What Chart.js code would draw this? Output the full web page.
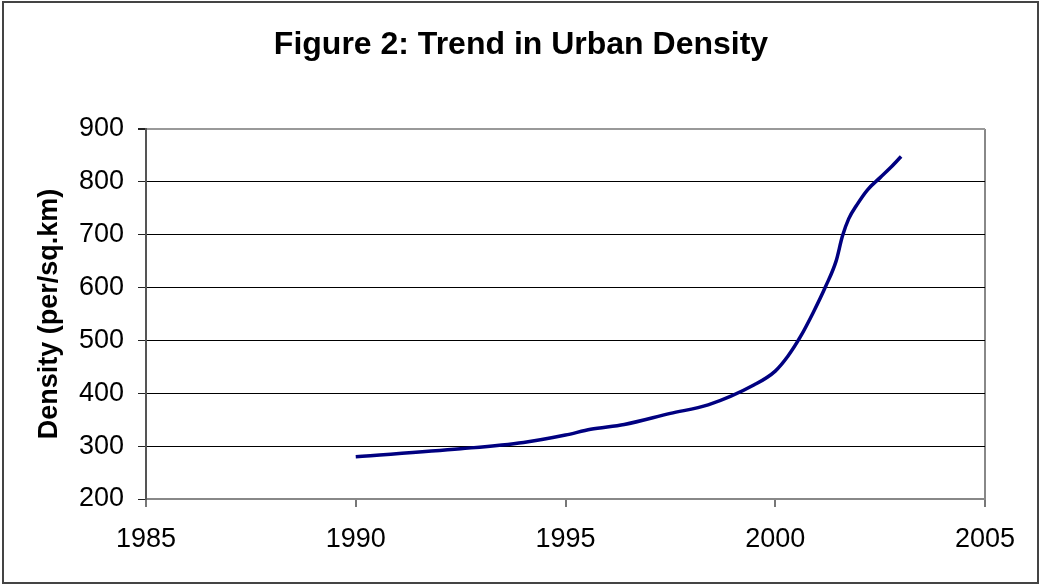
<!DOCTYPE html>
<html>
<head>
<meta charset="utf-8">
<script src="https://cdn.jsdelivr.net/npm/chart.js@4.4.0/dist/chart.umd.min.js"></script>
<style>
  body { margin: 0; background: #fff; }
</style>
</head>
<body>
<canvas id="myChart" width="1040" height="585"></canvas>
<script>
// valores
var anos = [1990, 1992.5, 1994, 1995, 1995.6, 1996.4, 1997.5, 1998.4, 1999.5, 2000, 2000.3, 2000.6, 2000.9, 2001.2, 2001.45, 2001.6, 2001.75, 2001.95, 2002.2, 2002.5, 2002.75, 2003];
var densidade = [280, 295, 307, 321, 332, 341, 362, 378, 416, 442, 470, 507, 552, 602, 650, 697, 730, 757, 785, 808, 827, 848];
var ticksX = [1985, 1990, 1995, 2000, 2005];
var ticksY = [200, 300, 400, 500, 600, 700, 800, 900];
var titulo = 'Figure 2: Trend in Urban Density';

var pontos = [];
for (let i = 0; i < anos.length; i++) {
    pontos.push({ x: anos[i], y: densidade[i] });
}

// moldura externa e titulo
var moldura = {
    id: 'moldura',
    afterDraw: function (chart) {
        let c = chart.ctx;
        c.save();
        c.strokeStyle = '#444';
        c.lineWidth = 2;
        c.strokeRect(3, 2, 1035, 581);
        c.fillStyle = '#000';
        c.font = 'bold 32px "Liberation Sans", Arial';
        c.textAlign = 'center';
        c.textBaseline = 'middle';
        c.fillText(titulo, 521, 45);
        c.restore();
    }
};

let ctx = document.getElementById('myChart').getContext('2d');
let myChart = new Chart(ctx, {
    type: 'scatter',
    data: {
        datasets: [{
            label: 'Density',
            data: pontos,
            showLine: true,
            borderColor: '#000080',
            backgroundColor: '#000080',
            borderWidth: 3.5,
            pointRadius: 0,
            cubicInterpolationMode: 'monotone'
        }]
    },
    options: {
        responsive: false,
        animation: false,
        layout: { padding: { left: 0, right: 55, top: 129, bottom: 0 } },
        plugins: {
            legend: { display: false },
            tooltip: { enabled: false },
            title: { display: false }
        },
        scales: {
            x: {
                type: 'linear',
                min: 1985,
                max: 2005,
                afterBuildTicks: function (s) { s.ticks = ticksX.map(v => ({ value: v })); },
                afterFit: function (s) { s.height = 86; },
                ticks: {
                    color: '#000',
                    padding: 16,
                    font: { family: 'Liberation Sans, Arial', size: 27 },
                    callback: v => String(v)
                },
                grid: {
                    color: c => (c.tick && c.tick.value === 2005) ? '#888' : 'rgba(0,0,0,0)',
                    lineWidth: 2,
                    tickColor: '#777',
                    tickLength: 8
                },
                border: { color: '#888', width: 2 }
            },
            y: {
                min: 200,
                max: 900,
                afterBuildTicks: function (s) { s.ticks = ticksY.map(v => ({ value: v })); },
                afterFit: function (s) { s.width = 146; },
                ticks: {
                    color: '#000',
                    padding: 14,
                    font: { family: 'Liberation Sans, Arial', size: 27 }
                },
                grid: {
                    color: c => (c.tick && c.tick.value === 900) ? '#999' : '#000',
                    lineWidth: c => (c.tick && c.tick.value === 900) ? 2 : 1,
                    tickColor: '#222',
                    tickLength: 8
                },
                border: { color: '#555', width: 2 },
                title: {
                    display: true,
                    text: 'Density (per/sq.km)',
                    color: '#000',
                    font: { family: 'Liberation Sans, Arial', size: 27, weight: 'bold' },
                    padding: { top: 33, bottom: 0 }
                }
            }
        }
    },
    plugins: [moldura]
});
</script>
</body>
</html>
